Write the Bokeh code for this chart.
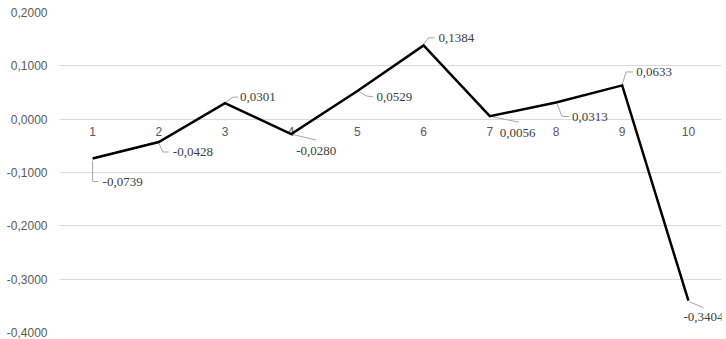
from bokeh.plotting import figure
from bokeh.models import FixedTicker, CustomJSTickFormatter, ColumnDataSource
from bokeh.core.properties import value
from bokeh.embed import file_html
from bokeh.resources import INLINE

# Series
periods = [1, 2, 3, 4, 5, 6, 7, 8, 9, 10]
values = [-0.0739, -0.0428, 0.0301, -0.0280, 0.0529, 0.1384, 0.0056, 0.0313, 0.0633, -0.3404]
y_ticks = [-0.4, -0.3, -0.2, -0.1, 0.0, 0.1, 0.2]

# Placement of each data label relative to its point (screen pixels, +y is down)
label_dx = [10, 14, 15, 5, 19, 15, 10, 16, 14, -5]
label_dy = [23, 10, -6, 17, 6, -7.5, 17, 15, -13.5, 16]
# Leader line vertices for each label (screen pixels relative to the point)
leaders = [
    [(0, 2), (0, 23), (6, 23)],
    [(0, 1), (4, 10), (10, 10)],
    [(1, -1), (8, -6), (13, -6)],
    [(0, 0), (25, 6)],
    [(2, 1), (9, 5), (16, 6)],
    [(0, -1), (5, -7.5), (11, -7.5)],
    [(0, 0), (29, 6)],
    [(1, 1), (6, 14), (13, 14)],
    [(0, -1), (4, -13.5), (11, -13.5)],
    [(1, 1), (15, 7)],
]

W, H = 726, 339
LEFT, RIGHT, TOP, BOTTOM = 59, 5, 12, 7
X0, X1 = 0.5, 10.5
Y0, Y1 = -0.4, 0.2
px_x = (W - LEFT - RIGHT) / (X1 - X0)
px_y = (H - TOP - BOTTOM) / (Y1 - Y0)

p = figure(width=W, height=H, x_range=(X0, X1), y_range=(Y0, Y1),
           output_backend="svg", toolbar_location=None,
           min_border_left=LEFT, min_border_right=RIGHT,
           min_border_top=TOP, min_border_bottom=BOTTOM)
p.outline_line_color = None
p.background_fill_color = "white"
p.border_fill_color = "white"

p.xaxis.visible = False
p.xgrid.visible = False
p.ygrid.ticker = FixedTicker(ticks=y_ticks)
p.ygrid.grid_line_color = "#d9d9d9"
p.ygrid.grid_line_width = 1

ya = p.yaxis[0]
ya.ticker = FixedTicker(ticks=y_ticks)
ya.formatter = CustomJSTickFormatter(code="return tick.toFixed(4).replace('.', ',');")
ya.axis_line_color = None
ya.major_tick_line_color = None
ya.minor_tick_line_color = None
ya.major_tick_in = 0
ya.major_tick_out = 0
ya.major_label_standoff = 12
ya.major_label_text_font = "Liberation Sans"
ya.major_label_text_font_size = "12px"
ya.major_label_text_color = "#595959"

# Category labels sitting just under the zero line
p.text(x=periods, y=[0] * len(periods), text=[str(c) for c in periods],
       text_font=value("Liberation Sans"), text_font_size="12px",
       text_color="#595959", text_align="center", text_baseline="top",
       y_offset=8)

# Leader lines
xs, ys = [], []
for xv, yv, pts in zip(periods, values, leaders):
    xs.append([xv + dx / px_x for dx, dy in pts])
    ys.append([yv - dy / px_y for dx, dy in pts])
p.multi_line(xs=xs, ys=ys, line_color="#a6a6a6", line_width=1)

# Main series
p.line(periods, values, line_color="black", line_width=2.5, line_join="miter")

# Data labels
src = ColumnDataSource(dict(
    x=periods, y=values,
    txt=[f"{v:.4f}".replace(".", ",") for v in values],
    dx=label_dx, dy=label_dy,
))
p.text(x="x", y="y", text="txt", x_offset="dx", y_offset="dy", source=src,
       text_font=value("Liberation Serif"), text_font_size="13px",
       text_color="#404040", text_align="left", text_baseline="middle")

open("out.html", "w").write(file_html(p, INLINE))
